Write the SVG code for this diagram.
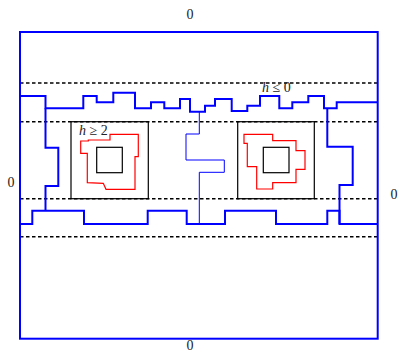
<svg xmlns="http://www.w3.org/2000/svg" width="399" height="353" viewBox="0 0 399 353">
<style>
.lbl{font-family:"Liberation Serif","DejaVu Serif",serif;font-size:14px;fill:#222}
.it{font-style:italic}
.dash{stroke:#000;stroke-width:1.5;stroke-dasharray:3.5 2.5;fill:none}
.blue{stroke:#0000ff;stroke-width:2;fill:none}
.thin{stroke:#0000ff;stroke-width:1;fill:none}
.red{stroke:#ff0000;stroke-width:1.2;fill:none}
.box{stroke:#000;stroke-width:1.2;fill:none}
</style>
<rect width="399" height="353" fill="#fff"/>
<g id="dashes">
<line class="dash" x1="20" y1="83" x2="378" y2="83"/>
<line class="dash" x1="20" y1="121.7" x2="378" y2="121.7"/>
<line class="dash" x1="20" y1="198.7" x2="378" y2="198.7"/>
<line class="dash" x1="20" y1="236.7" x2="378" y2="236.7"/>
</g>
<g id="outer">
<rect class="blue" x="20" y="32" width="357.7" height="306.7"/>
</g>
<g id="connectors">
<polyline class="blue" points="20,96 45.5,96 45.5,108.3 83.3,108.3 83.3,96 96.7,96 96.7,102.3 113.3,102.3 113.3,92.7 135,92.7 135,108.3 151,108.3 151,102.3 164.3,102.3 164.3,108.3 180,108.3 180,99 190,99 190,111.7 205,111.7 205,105.7 215,105.7 215,99 231.7,99 231.7,111 247.3,111 247.3,105.7 260,105.7 260,96 279.3,96 279.3,108.3 292.3,108.3 292.3,102.3 308.3,102.3 308.3,96 324,96 324,108.3 336.7,108.3 336.7,102.3 377.7,102.3"/>
<polyline class="blue" points="20,224 32.3,224 32.3,210.7 84,210.7 84,224 147.7,224 147.7,210.7 186.7,210.7 186.7,224 225,224 225,210.7 276,210.7 276,224 327.3,224 327.3,210.7 339.5,210.7 339.5,224 377.7,224"/>
<polyline class="blue" points="45.5,108.3 45.5,147.7 58.3,147.7 58.3,186 45.5,186 45.5,210.7"/>
<polyline class="blue" points="327.3,108.3 327.3,146.7 352.7,146.7 352.7,185 339.5,185 339.5,224"/>
<polyline class="thin" points="199.3,111.7 199.3,134 186,134 186,160 224.3,160 224.3,172.3 199.3,172.3 199.3,224"/>
</g>
<g id="left-node">
<rect class="box" x="71" y="121.7" width="77.3" height="77"/>
<rect class="box" x="96.7" y="147.3" width="25.6" height="25.4"/>
<polygon class="red" points="80.7,141 88.3,141 88.3,140 110,140 110,134.3 138.3,134.3 138.3,156.7 135,156.7 135,189.3 106,189.3 103.3,183.3 87.3,182.7 87.3,153.3 80.7,153.3"/>
<text class="lbl" x="79" y="135"><tspan class="it">h</tspan> ≥ 2</text>
</g>
<g id="right-node">
<rect class="box" x="237.7" y="121.7" width="76.6" height="77"/>
<rect class="box" x="263.3" y="147.3" width="25.7" height="25.4"/>
<polygon class="red" points="244,134.3 272.7,134.3 272.7,140.7 296,140.7 296,150.7 305,150.7 305,169.3 296,169.3 296,182.7 272.7,182.7 272.7,189 256.7,189 256.7,166.7 247.3,166.7 247.3,143.3 244,143.3"/>
</g>
<g id="labels">
<text class="lbl" x="262" y="92"><tspan class="it">h</tspan> ≤ 0</text>
<text class="lbl" x="190" y="19" text-anchor="middle">0</text>
<text class="lbl" x="11" y="187" text-anchor="middle">0</text>
<text class="lbl" x="394" y="199" text-anchor="middle">0</text>
<text class="lbl" x="190" y="350" text-anchor="middle" font-size="13">0</text>
</g>
</svg>
